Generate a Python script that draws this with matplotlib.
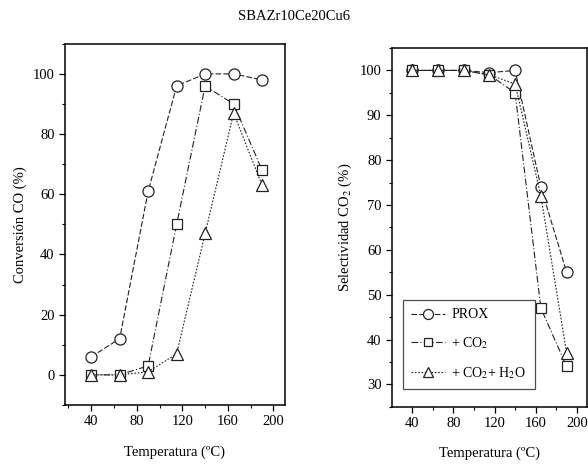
import matplotlib.pyplot as plt

plt.rcParams['font.family'] = ['Liberation Serif', 'DejaVu Serif']
plt.rcParams['mathtext.fontset'] = 'stix'

# temperatures (C)
temp = [40, 65, 90, 115, 140, 165, 190]

# conversion CO (%)
conv_prox = [6, 12, 61, 96, 100, 100, 98]
conv_co2 = [0, 0, 3, 50, 96, 90, 68]
conv_co2_h2o = [0, 0, 1, 7, 47, 87, 63]

# selectividad CO2 (%)
sel_prox = [100, 100, 100, 99.5, 100, 74, 55]
sel_co2 = [100, 100, 100, 99, 95, 47, 34]
sel_co2_h2o = [100, 100, 100, 99, 97, 72, 37]

labels = ["PROX", "+ CO$_2$", "+ CO$_2$+ H$_2$O"]
x_ticks = [40, 80, 120, 160, 200]

fig = plt.figure(figsize=(5.88, 4.66), dpi=100)
ax1 = fig.add_axes([0.1105, 0.131, 0.374, 0.775])
ax2 = fig.add_axes([0.6667, 0.127, 0.332, 0.770])

styles = [dict(marker="o", ls=(0, (5, 2)), ms=8),
          dict(marker="s", ls=(0, (6, 2, 1, 2)), ms=7),
          dict(marker="^", ls=(0, (1.5, 1.5)), ms=8)]


def draw(ax, series):
    for ys, st, lab in zip(series, styles, labels):
        ax.plot(temp, ys, color="#222222", lw=0.8, mfc="white",
                mec="#222222", mew=0.9, label=lab, **st)
    ax.set_xticks(x_ticks)
    ax.set_xticks(range(20, 211, 20), minor=True)
    ax.tick_params(direction="out", labelsize=10.5, length=4, width=0.9)
    ax.tick_params(which="minor", direction="out", length=2.5, width=0.8)
    for s in ax.spines.values():
        s.set_linewidth(1.1)
    ax.set_xlabel("Temperatura (ºC)", fontsize=10.5, labelpad=12)


draw(ax1, [conv_prox, conv_co2, conv_co2_h2o])
ax1.set_xlim(17, 210)
ax1.set_ylim(-10, 110)
ax1.set_yticks([0, 20, 40, 60, 80, 100])
ax1.set_yticks(range(-10, 111, 10), minor=True)
ax1.set_ylabel("Conversión CO (%)", fontsize=10.5)

draw(ax2, [sel_prox, sel_co2, sel_co2_h2o])
ax2.set_xlim(20.5, 210)
ax2.set_ylim(25, 105)
ax2.set_yticks(range(30, 101, 10))
ax2.set_yticks(range(25, 106, 5), minor=True)
ax2.set_ylabel("Selectividad CO$_2$ (%)", fontsize=10.5)
leg = ax2.legend(loc="lower left", bbox_to_anchor=(0.02, 0.03), fontsize=10,
                 fancybox=False, edgecolor="#222222", handlelength=2.4,
                 borderpad=0.6, labelspacing=1.0, handletextpad=0.5,
                 markerscale=0.9)
leg.get_frame().set_linewidth(0.9)

fig.text(0.5, 0.965, "SBAZr10Ce20Cu6", ha="center", va="center", fontsize=10.5)

fig.savefig("out.png", dpi=100)
